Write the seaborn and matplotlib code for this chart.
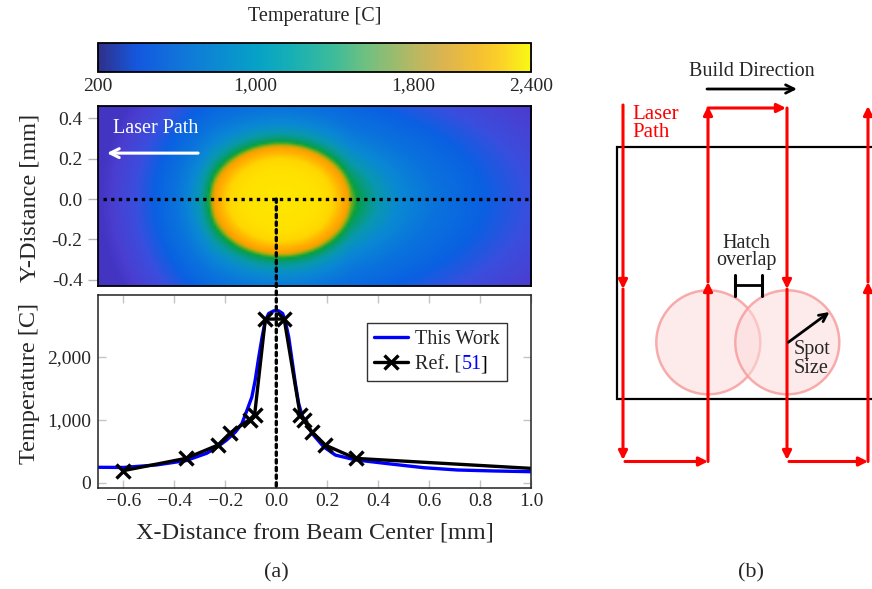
import numpy as np
import matplotlib
matplotlib.use("Agg")
import matplotlib.pyplot as plt
import seaborn as sns
from matplotlib.colors import LinearSegmentedColormap, Normalize
from matplotlib.patches import Circle, ConnectionPatch

# ---------------- data ----------------
# "This Work" temperature profile along y = 0
work_x = [-0.70, -0.60, -0.47, -0.355, -0.273, -0.23, -0.195, -0.16, -0.135, -0.115, -0.096,
          -0.083, -0.07, -0.056, -0.043, -0.030, -0.010, 0.009, 0.025, 0.035, 0.049, 0.062,
          0.075, 0.088, 0.101, 0.14, 0.186, 0.232, 0.311, 0.449, 0.58, 0.711, 0.85, 1.0]
work_T = [248, 245, 285, 353, 470, 574, 680, 808, 940, 1150, 1360,
          1622, 1964, 2304, 2567, 2682, 2724, 2724, 2682, 2567, 2304, 1937,
          1570, 1254, 1071, 786, 572, 441, 365, 300, 241, 205, 190, 178]
# Ref. [51] measured points
ref_x = [-0.60, -0.355, -0.23, -0.181, -0.105, -0.085, -0.043, 0.031, 0.094, 0.108, 0.14, 0.193, 0.311, 1.2]
ref_T = [195, 389, 598, 792, 1003, 1082, 2594, 2594, 1071, 992, 808, 598, 389, 185]

cbar_ticks = [200, 1000, 1800, 2400]
cbar_labels = ["200", "1,000", "1,800", "2,400"]
x_ticks = [-0.6, -0.4, -0.2, 0.0, 0.2, 0.4, 0.6, 0.8, 1.0]
x_tick_labels = ["\u22120.6", "\u22120.4", "\u22120.2", "0.0", "0.2", "0.4", "0.6", "0.8", "1.0"]
heat_y_ticks = [-0.4, -0.2, 0.0, 0.2, 0.4]
heat_y_labels = ["-0.4", "-0.2", "0.0", "0.2", "0.4"]
temp_y_ticks = [0, 1000, 2000]
temp_y_labels = ["0", "1,000", "2,000"]

# heat-map radial level profile (distance in mm -> colour level)
heat_r = [0.00, 0.145, 0.205, 0.24, 0.26, 0.276, 0.292, 0.307, 0.337, 0.385, 0.455, 0.555, 0.68, 0.85]
heat_v = [1.00, 0.97, 0.90, 0.80, 0.74, 0.67, 0.58, 0.52, 0.45, 0.39, 0.33, 0.27, 0.17, 0.06]
spot_cx, spot_cy = 0.015, -0.005
beam_center = 0.0

# ---------------- style ----------------
sns.set_style("white")
plt.rcParams['font.family'] = ['Liberation Serif', 'DejaVu Serif']
plt.rcParams['axes.unicode_minus'] = True

W, H = 872, 589
fig = plt.figure(figsize=(W / 100, H / 100), dpi=100)


def ax_px(x0, y0, x1, y1, **kw):
    return fig.add_axes([x0 / W, 1 - y1 / H, (x1 - x0) / W, (y1 - y0) / H], **kw)


TICK_FS = 14
LABEL_FS = 17.5

# ---------------- colorbar ----------------
cb_cmap = LinearSegmentedColormap.from_list("parula_like", [
    (0.00, '#30308a'), (0.09, '#1458e0'), (0.20, '#1078d8'), (0.30, '#0a90d0'),
    (0.37, '#06a2c6'), (0.45, '#18b0b4'), (0.55, '#40bc98'), (0.62, '#70c080'),
    (0.73, '#b8b862'), (0.80, '#dcb450'), (0.88, '#f4c032'), (0.93, '#fcd028'),
    (1.00, '#f8f814')])
cax = ax_px(98, 43, 531, 72)
sm = plt.cm.ScalarMappable(norm=Normalize(200, 2400), cmap=cb_cmap)
cb = fig.colorbar(sm, cax=cax, orientation='horizontal')
cb.set_ticks(cbar_ticks, labels=cbar_labels)
cax.tick_params(axis='x', direction='in', length=7, width=1.2, color='#8c8c8c', top=True,
                bottom=True, labelsize=TICK_FS, pad=4)
cb.outline.set_linewidth(1.3)
cb.outline.set_edgecolor('black')
fig.text(315 / W, 1 - 16 / H, "Temperature [C]", ha='center', va='center', fontsize=14.5)

# ---------------- heat map ----------------
heat_cmap = LinearSegmentedColormap.from_list("heat", [
    (0.00, '#3a28b0'), (0.10, '#4a3ed0'), (0.18, '#3a4ede'), (0.26, '#0a60e2'),
    (0.33, '#0a74dc'), (0.39, '#0a88d4'), (0.45, '#0898b0'), (0.52, '#089c70'),
    (0.58, '#04a040'), (0.64, '#60ac20'), (0.70, '#e0a800'), (0.74, '#ffa000'),
    (0.82, '#ffb800'), (0.90, '#ffd600'), (1.00, '#ffe600')])
ax_h = ax_px(98, 106, 531, 286)
hx = np.linspace(-0.7, 1.0, 150)
hy = np.linspace(-0.43, 0.46, 80)
X, Y = np.meshgrid(hx, hy)
dx = X - spot_cx
xs = np.where(dx > 0.28, 0.28 + (dx - 0.28) * 0.55,
              np.where(dx < -0.26, -0.26 + (dx + 0.26) * 1.3, dx))
R = np.hypot(xs, Y - spot_cy)
V = np.interp(R, heat_r, heat_v)
ax_h.imshow(V, extent=[-0.7, 1.0, -0.43, 0.46], origin='lower', aspect='auto',
            cmap=heat_cmap, vmin=0, vmax=1, interpolation='bilinear')
ax_h.set_xlim(-0.7, 1.0)
ax_h.set_ylim(-0.43, 0.46)
ax_h.set_xticks([])
ax_h.set_yticks(heat_y_ticks, labels=heat_y_labels)
ax_h.tick_params(axis='y', direction='out', length=7, width=1, color='#b8b8b8',
                 labelsize=TICK_FS, pad=4, left=True)
for s in ax_h.spines.values():
    s.set_color('black')
    s.set_linewidth(1.3)
ax_h.set_ylabel("Y-Distance [mm]", fontsize=LABEL_FS, va='center')
ax_h.yaxis.set_label_coords(-0.158, 0.49)
ax_h.plot([-0.68, 1.0], [0, 0], color='black', lw=2.4, ls=(0, (1, 1.3)))
ax_h.text(-0.642, 0.35, "Laser Path", color='white', fontsize=14.5, ha='left', va='center')
ax_h.annotate("", xy=(-0.665, 0.227), xytext=(-0.307, 0.227),
              arrowprops=dict(arrowstyle='->', color='white', lw=2.2, mutation_scale=16,
                              shrinkA=0, shrinkB=0))

# ---------------- temperature profile ----------------
ax_b = ax_px(98, 295, 531, 488)
sns.lineplot(x=work_x, y=work_T, ax=ax_b, color='blue', lw=2.4, label='This Work',
             estimator=None, sort=False)
sns.lineplot(x=ref_x, y=ref_T, ax=ax_b, color='black', lw=2.4, marker='x', markersize=10,
             markeredgewidth=2.4, markeredgecolor='black', label='Ref. [51]',
             estimator=None, sort=False)
ax_b.set_xlim(-0.7, 1.0)
ax_b.set_ylim(-80, 2975)
ax_b.set_xticks(x_ticks, labels=x_tick_labels)
ax_b.set_yticks(temp_y_ticks, labels=temp_y_labels)
ax_b.tick_params(direction='in', length=6, width=1, color='#c4c4c4', top=True, right=True,
                 bottom=True, left=True, labelsize=TICK_FS, pad=5)
ax_b.tick_params(axis='x', pad=3.5)
for s in ax_b.spines.values():
    s.set_color('#222222')
    s.set_linewidth(1.1)
ax_b.set_ylabel("Temperature [C]", fontsize=LABEL_FS, va='center')
ax_b.yaxis.set_label_coords(-0.158, 0.54)
ax_b.set_xlabel("X-Distance from Beam Center [mm]", fontsize=LABEL_FS, va='center')
ax_b.xaxis.set_label_coords(0.5, -0.235)

leg = ax_b.legend(loc='upper right', bbox_to_anchor=(0.9446, 0.855), fontsize=14.5, frameon=True,
                  fancybox=False, edgecolor='#333333', framealpha=1, handlelength=1.7,
                  handletextpad=0.35, labelspacing=0.3, borderpad=0.35, borderaxespad=0)
leg.get_frame().set_linewidth(1.0)
ref_txt = leg.get_texts()[1]
ref_txt.set_text("Ref. [")
a1 = ax_b.annotate("51", xy=(1, 0), xycoords=ref_txt, ha='left', va='bottom', color='blue',
                   fontsize=14.5, zorder=7)
a2 = ax_b.annotate("]", xy=(1, 0), xycoords=a1, xytext=(-1.5, 0), textcoords='offset pixels',
                   ha='left', va='bottom', color='black', fontsize=14.5, zorder=7)

con = ConnectionPatch(xyA=(beam_center, 0.0), coordsA=ax_h.transData,
                      xyB=(beam_center, -80), coordsB=ax_b.transData,
                      color='black', lw=2.4, ls=(0, (1, 1.3)), zorder=10)
fig.add_artist(con)

# ---------------- panel captions ----------------
fig.text(276 / W, 1 - 573 / H, "(a)", ha='center', va='center', fontsize=16)
fig.text(751 / W, 1 - 573 / H, "(b)", ha='center', va='center', fontsize=16)

# ---------------- schematic (b) in pixel coordinates ----------------
ax_d = fig.add_axes([0, 0, 1, 1], zorder=5)
ax_d.set_xlim(0, W)
ax_d.set_ylim(H, 0)
ax_d.axis('off')
ax_d.patch.set_alpha(0)

RED = '#ff0000'
rect_x0, rect_y0, rect_y1 = 617.3, 146.7, 399.0
ax_d.plot([W + 5, rect_x0, rect_x0, W + 5], [rect_y0, rect_y0, rect_y1, rect_y1],
          color='black', lw=1.6, solid_joinstyle='miter', clip_on=False)

laser_segments = [
    ((623, 105), (623, 289)), ((623, 289), (623, 460)), ((625, 461.5), (708, 461.5)),
    ((708, 461.5), (708, 282)), ((708, 282), (708, 106)), ((708, 108), (786, 108)),
    ((787, 108), (787, 289)), ((787, 289), (787, 460)), ((789, 461.5), (868, 461.5)),
    ((868, 461.5), (868, 282)), ((868, 282), (868, 106)),
]
for (p0, p1) in laser_segments:
    ax_d.annotate("", xy=p1, xytext=p0,
                  arrowprops=dict(arrowstyle='-|>', color=RED, lw=2.2, mutation_scale=13,
                                  shrinkA=0, shrinkB=0))

for cx in (708.3, 787.3):
    ax_d.add_patch(Circle((cx, 342.3), 52, facecolor=(0.99, 0.86, 0.86, 0.55),
                          edgecolor=(0.97, 0.62, 0.62, 0.85), lw=1.8))

ax_d.text(632, 123.3, "Laser\nPath", color=RED, fontsize=15, ha='left', va='center',
          linespacing=0.9)
ax_d.text(751.7, 71.7, "Build Direction", fontsize=14.5, ha='center', va='center')
ax_d.annotate("", xy=(797, 89), xytext=(707, 89),
              arrowprops=dict(arrowstyle='->', color='black', lw=2.0, mutation_scale=15,
                              shrinkA=0, shrinkB=0))
ax_d.text(746.7, 252, "Hatch\noverlap", fontsize=14.5, ha='center', va='center',
          linespacing=0.9)
ax_d.plot([735, 762], [285, 285], color='black', lw=2.0)
ax_d.plot([735, 735], [275, 296], color='black', lw=2.2)
ax_d.plot([762, 762], [275, 296], color='black', lw=2.2)
ax_d.annotate("", xy=(829.5, 312), xytext=(788.3, 342.3),
              arrowprops=dict(arrowstyle='->', color='black', lw=2.0, mutation_scale=14,
                              shrinkA=0, shrinkB=0))
ax_d.text(794, 359.2, "Spot\nSize", fontsize=14.5, ha='left', va='center', linespacing=1.0)

fig.canvas.draw()
fig.savefig("out.png", dpi=100)
